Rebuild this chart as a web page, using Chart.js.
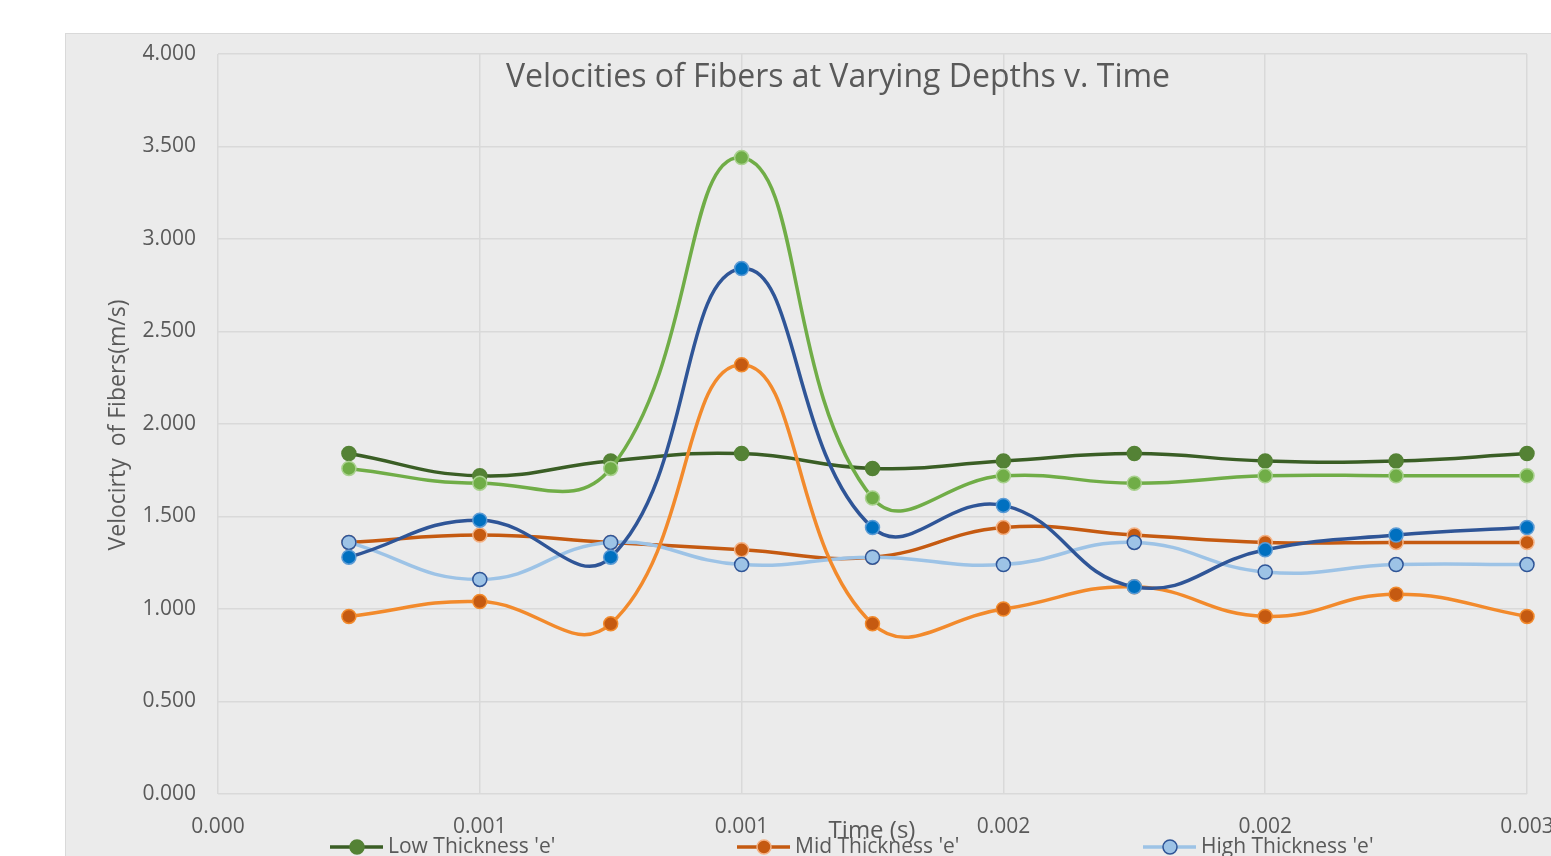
<!DOCTYPE html>
<html lang="en">
<head>
  <meta charset="utf-8">
  <title>Velocities of Fibers at Varying Depths v. Time</title>
  <script src="https://cdn.jsdelivr.net/npm/chart.js"></script>
  <style>
    body { margin: 0; background: #ffffff; overflow: hidden; }
    #frame {
      position: absolute; left: 65px; top: 33px;
      width: 1540px; height: 840px;
      background: #ebebeb; border: 1px solid #d9d9d9;
    }
  </style>
</head>
<body>
<div id="frame">
  <canvas id="myChart" width="1540" height="823"></canvas>
</div>
<script>
  // values
  const timeS = [0.0003, 0.0006, 0.0009, 0.0012, 0.0015, 0.0018, 0.0021, 0.0024, 0.0027, 0.003];
  const lowE  = [1.84, 1.72, 1.80, 1.84, 1.76, 1.80, 1.84, 1.80, 1.80, 1.84];
  const midE  = [1.36, 1.40, 1.36, 1.32, 1.28, 1.44, 1.40, 1.36, 1.36, 1.36];
  const highE = [1.36, 1.16, 1.36, 1.24, 1.28, 1.24, 1.36, 1.20, 1.24, 1.24];
  const lowF  = [1.76, 1.68, 1.76, 3.44, 1.60, 1.72, 1.68, 1.72, 1.72, 1.72];
  const midF  = [0.96, 1.04, 0.92, 2.32, 0.92, 1.00, 1.12, 0.96, 1.08, 0.96];
  const highF = [1.28, 1.48, 1.28, 2.84, 1.44, 1.56, 1.12, 1.32, 1.40, 1.44];

  const seriesNames = ["Low Thickness 'e'", "Mid Thickness 'e'", "High Thickness 'e'",
                       "Low Thickness 'f'", "Mid Thickness 'f'", "High Thickness 'f'"];
  const chartTitle = 'Velocities of Fibers at Varying Depths v. Time';
  const xTitle = 'Time (s)';
  const yTitle = 'Velocirty  of Fibers(m/s)';

  const textColor = '#595959';

  // line colour, marker fill, marker border
  const styles = [
    ['#3a5e25', '#548235', '#548235'],
    ['#c55a11', '#c55a11', '#f4b183'],
    ['#9dc3e6', '#9dc3e6', '#2f5597'],
    ['#70ad47', '#70ad47', '#a9d18e'],
    ['#f28a2c', '#c55a11', '#f28a2c'],
    ['#2f5597', '#0070c0', '#5b9bd5']
  ];
  const allSeries = [lowE, midE, highE, lowF, midF, highF];

  const datasets = allSeries.map((vals, i) => ({
    label: seriesNames[i],
    data: vals.map((v, k) => ({x: timeS[k], y: v})),
    borderColor: styles[i][0],
    backgroundColor: styles[i][1],
    pointBackgroundColor: styles[i][1],
    pointBorderColor: styles[i][2],
    pointRadius: 7,
    pointBorderWidth: 1.5,
    borderWidth: 3.5,
    tension: 0.45,
    clip: false,
    order: 6 - i
  }));

  // titles and the visible legend row, drawn on the canvas
  const excelText = {
    id: 'excelText',
    beforeDatasetsDraw(chart) {
      const ctx = chart.ctx;
      ctx.save();
      ctx.fillStyle = textColor;
      ctx.textAlign = 'center';
      ctx.textBaseline = 'middle';
      ctx.font = '32px "Open Sans"';
      ctx.fillText(chartTitle, 772, 44);

      ctx.font = '24px "Open Sans"';
      ctx.fillText(xTitle, 806, 797);

      ctx.font = '23px "Open Sans"';
      ctx.translate(52, 391);
      ctx.rotate(-Math.PI / 2);
      ctx.fillText(yTitle, 0, 0);
      ctx.restore();
    },
    afterDraw(chart) {
      const ctx = chart.ctx;
      const starts = [264, 671, 1077];
      const y = 813;
      ctx.save();
      starts.forEach((x0, i) => {
        const ds = chart.data.datasets[i];
        ctx.strokeStyle = ds.borderColor;
        ctx.lineWidth = 3.5;
        ctx.beginPath();
        ctx.moveTo(x0, y);
        ctx.lineTo(x0 + 53, y);
        ctx.stroke();
        ctx.beginPath();
        ctx.arc(x0 + 27, y, 7, 0, Math.PI * 2);
        ctx.fillStyle = ds.pointBackgroundColor;
        ctx.fill();
        ctx.lineWidth = 1.5;
        ctx.strokeStyle = ds.pointBorderColor;
        ctx.stroke();
        ctx.fillStyle = textColor;
        ctx.font = '21px "Open Sans"';
        ctx.textAlign = 'left';
        ctx.textBaseline = 'middle';
        ctx.fillText(ds.label, x0 + 58, y);
      });
      ctx.restore();
    }
  };

  const config = {
    type: 'line',
    data: { datasets: datasets },
    options: {
      responsive: false,
      animation: false,
      layout: { padding: { top: 20, right: 79, left: 0, bottom: 0 } },
      plugins: {
        legend: { display: false },
        title: { display: false },
        tooltip: { enabled: false }
      },
      scales: {
        x: {
          type: 'linear',
          min: 0,
          max: 0.003,
          afterFit: (scale) => { scale.height = 63; },
          ticks: {
            stepSize: 0.0006,
            padding: 20,
            color: textColor,
            font: { family: 'Open Sans', size: 21 },
            maxRotation: 0,
            callback: (v) => Number(v).toFixed(3)
          },
          grid: { color: '#d9d9d9', lineWidth: 1.5, drawTicks: false },
          border: { display: false }
        },
        y: {
          min: 0,
          max: 4,
          afterFit: (scale) => {
            scale.width = 152;
            scale.paddingTop = 0;
            scale.paddingBottom = 0;
          },
          ticks: {
            stepSize: 0.5,
            padding: 22,
            color: textColor,
            font: { family: 'Open Sans', size: 21 },
            callback: (v) => Number(v).toFixed(3)
          },
          grid: { color: '#d9d9d9', lineWidth: 1.5, drawTicks: false },
          border: { display: false }
        }
      }
    },
    plugins: [excelText]
  };

  const myChart = new Chart(document.getElementById('myChart'), config);
</script>
</body>
</html>
